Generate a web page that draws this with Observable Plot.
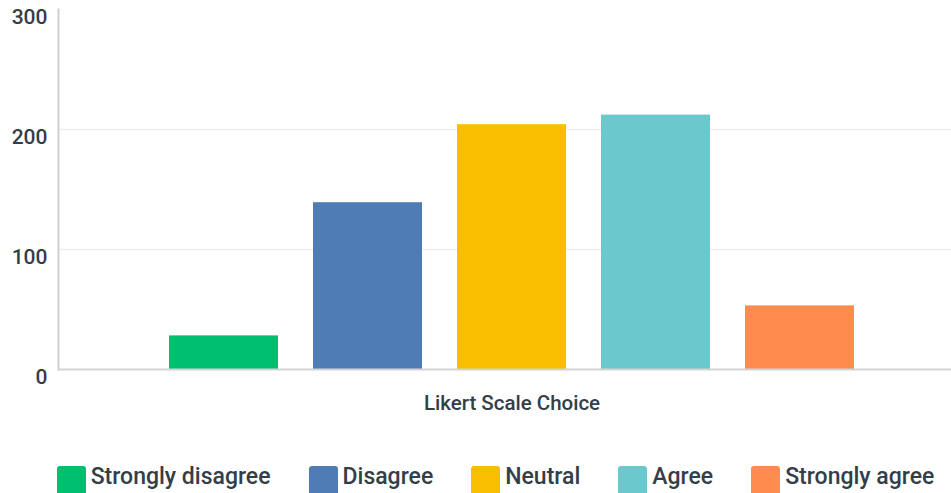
<!DOCTYPE html>
<html><head><meta charset="utf-8">
<script src="https://cdn.jsdelivr.net/npm/d3@7"></script>
<script src="https://cdn.jsdelivr.net/npm/@observablehq/plot@0.6"></script>
<style>
body{margin:0;background:#fff;font-family:Roboto,sans-serif;color:#333e48}
#legend{display:flex;justify-content:center;align-items:flex-start;padding-left:40px;margin-top:36px;gap:38px;font-size:23px;font-weight:500}
#legend .item{display:flex;align-items:flex-start}
#legend .sw{width:29px;height:30px;border-radius:3px;margin-right:5px}
#legend span{line-height:22px}
</style></head><body><div id="chart"></div><div id="legend"></div>
<script>
const categories = ["Strongly disagree","Disagree","Neutral","Agree","Strongly agree"];
const counts = [28, 139, 204, 212, 53];
const colors = ["#00bf6f","#507cb6","#f9be00","#6bc8cd","#ff8b4f"];
const yTicks = [0, 100, 200, 300];
const gridTicks = [100, 200];
const xLabel = "Likert Scale Choice";

const data = categories.map((c, i) => ({choice: c, count: counts[i]}));

const chart = Plot.plot({
  width: 951, height: 430,
  marginLeft: 58, marginRight: 0, marginTop: 9, marginBottom: 61,
  style: {fontFamily: "Roboto, sans-serif", fontSize: "19px", color: "#333e48", background: "#fff"},
  x: {domain: categories, range: [168, 854], paddingInner: 0.245, paddingOuter: 0, axis: null},
  y: {domain: [0, 300], ticks: yTicks},
  color: {domain: categories, range: colors},
  marks: [
    Plot.ruleY(gridTicks, {stroke: "#ededed", strokeWidth: 1.5}),
    Plot.barY(data, {x: "choice", y: "count", fill: "choice"}),
    Plot.ruleY([0], {stroke: "#d3d3d3", strokeWidth: 2}),
    Plot.frame({anchor: "left", stroke: "#cfcfcf", strokeWidth: 2}),
    Plot.axisY(yTicks, {tickSize: 0, tickPadding: 11, dy: 8, fontSize: 21, fontWeight: 500, fill: "#333e48", label: null}),
    Plot.text([xLabel], {text: d => d, frameAnchor: "bottom", dy: 34, dx: 7, lineAnchor: "middle", fontSize: 20.5, fontWeight: 500, fill: "#333e48"})
  ]
});
document.getElementById("chart").appendChild(chart);

const legend = document.getElementById("legend");
categories.forEach((c, i) => {
  const item = document.createElement("div");
  item.className = "item";
  const sw = document.createElement("div");
  sw.className = "sw";
  sw.style.background = colors[i];
  const t = document.createElement("span");
  t.textContent = c;
  item.appendChild(sw); item.appendChild(t);
  legend.appendChild(item);
});
</script></body></html>
